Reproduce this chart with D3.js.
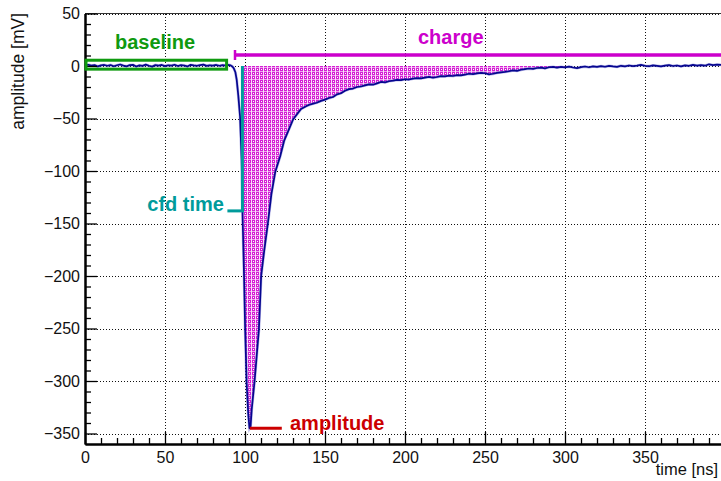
<!DOCTYPE html>
<meta charset="utf-8">
<style>
body { margin: 0; background: #fff; }
svg { display: block; font-family: "Liberation Sans", Arial, Helvetica, sans-serif; }
.grid line { stroke: #111; stroke-width: 1; stroke-dasharray: 1,2; }
.axis path, .axis line { stroke: #000; }
.axis text { fill: #111; font-size: 16px; font-family: "Liberation Sans", Arial, sans-serif; }
.note { font-weight: bold; font-size: 20px; }
</style>
<svg id="chart" width="721" height="481"></svg>
<script src="https://d3js.org/d3.v7.min.js"></script>
<script>

// waveform samples: time [ns] and amplitude [mV]
var time = [
  0, 2, 4, 6, 8, 10, 12, 14, 16, 18, 20, 22, 24, 26, 28, 30, 32, 34, 36, 38,
  40, 42, 44, 46, 48, 50, 52, 54, 56, 58, 60, 62, 64, 66, 68, 70, 72, 74, 76, 78,
  80, 82, 84, 86, 88, 90,
  91, 92, 93, 94, 94.8, 95.8, 96.9, 97.9, 98.5, 99.4, 100.1, 101, 102, 102.8, 103.5, 104.2,
  106, 108.7, 110.1, 112, 114.3, 116.5, 118.9, 122, 124.5, 127, 130, 132.5, 135, 138.5,
  141, 144.8, 147.5, 150,
  152.5, 155, 157.5, 160, 162.5, 165, 167.5, 170, 172.5, 175, 177.5, 180, 182.5, 185,
  187.5, 190, 192.5, 195, 197.5, 200, 202.5, 205, 207.5, 210, 212.5, 215, 217.5, 220,
  222.5, 225, 227.5, 230, 232.5, 235, 237.5, 240, 242.5, 245, 247.5, 250, 252.5, 255,
  257.5, 260, 262.5, 265, 267.5, 270, 272.5, 275, 277.5, 280, 282.5, 285, 287.5, 290,
  292.5, 295, 297.5, 300, 302.5, 305, 307.5, 310, 312.5, 315, 317.5, 320, 322.5, 325,
  327.5, 330, 332.5, 335, 337.5, 340, 342.5, 345, 347.5, 350, 352.5, 355, 357.5, 360,
  362.5, 365, 367.5, 370, 372.5, 375, 377.5, 380, 382.5, 385, 387.5, 390, 392.5, 395, 397.5
];
var amplitude = [
  0.5, 1.2, 0.3, 0.8, -0.4, 0.6, 1.0, 0.2, 0.9, -0.2, 0.7, 1.4, 0.4, -0.3, 0.8, 1.1, -0.5, 0.6, 0.1, 1.3,
  0.2, -0.6, 0.9, 0.4, 1.0, -0.1, 0.7, 0.3, 1.2, 0.0, 0.8, 0.5, -0.4, 1.1, 0.6, 0.2, 0.9, 1.3, 0.1, 0.7,
  0.4, 1.0, 0.2, 0.8, 0.5, 1.0,
  0.6, -0.4, -2.2, -6, -13, -28, -48, -89, -143, -200, -251, -301, -331, -345, -343, -327,
  -300, -251, -200, -176, -150, -122, -101, -86, -71, -62, -51, -46, -41, -38,
  -36.5, -35, -33.2, -32,
  -30.5, -29.5, -27, -26, -23.5, -22, -21.5, -20, -19.5, -18.5, -17.5, -17.8, -16.5, -15.2,
  -15.6, -14.5, -14, -13.2, -13.5, -12.6, -12.9, -12, -11.5, -11.8, -11, -10.4, -11.2, -10.5,
  -9.6, -9.9, -9.2, -9.5, -8.7, -8.9, -8.2, -7.4, -7.8, -7.0, -6.6, -6.9, -8.0, -7.4,
  -6.5, -6.0, -5.6, -5.0, -4.2, -4.6, -3.6, -3.0, -2.4, -2.8, -1.9, -1.5, -2.2, -1.2,
  -0.8, -1.6, -0.9, -1.3, -0.6, -1.4, -2.0, -1.1, -0.5, -1.2, -0.3, -0.9, -0.2, -0.7,
  0.1, -0.4, -0.8, 0.2, -0.3, 0.5, -0.1, 0.3, 1.0, 0.2, -0.2, 0.6, 0.1, -0.4,
  0.4, 0.9, 0.0, 0.5, -0.3, 0.6, 0.2, 1.1, 0.4, 0.8, 0.3, 1.6, 0.9, 1.3, 1.0
];

var xTicks = [0, 50, 100, 150, 200, 250, 300, 350];
var xMinor = [10, 20, 30, 40, 60, 70, 80, 90, 110, 120, 130, 140, 160, 170, 180, 190,
  210, 220, 230, 240, 260, 270, 280, 290, 310, 320, 330, 340, 360, 370, 380, 390];
var yTicks = [50, 0, -50, -100, -150, -200, -250, -300, -350];
var yMinor = [40, 30, 20, 10, -10, -20, -30, -40, -60, -70, -80, -90, -110, -120, -130, -140,
  -160, -170, -180, -190, -210, -220, -230, -240, -260, -270, -280, -290, -310, -320, -330, -340];

// analysis results shown as annotations
var baselineWindow = [0, 88.5];
var baselineBand = [-3, 5.5];
var chargeStart = 93.75;
var chargeLevel = 10.5;
var chargeFillEnd = 300;
var cfdTime = 98.4;
var cfdLevel = -138;
var cfdTickFrom = 89;
var peakTime = 103;
var peakValue = -345;
var peakTickTo = 123;

var svg = d3.select("#chart");

var x = d3.scaleLinear().domain([0, 397.5]).range([85, 721]);
var y = d3.scaleLinear().domain([-360, 50]).range([444, 13.5]);

var samples = time.map(function(t, i) { return [t, amplitude[i]]; });

// hatched fill pattern for the charge integral
var defs = svg.append("defs");
var pat = defs.append("pattern")
    .attr("id", "hatch")
    .attr("patternUnits", "userSpaceOnUse")
    .attr("width", 4).attr("height", 4)
    .attr("shape-rendering", "crispEdges");
pat.append("rect").attr("width", 4).attr("height", 4).attr("fill", "#d41ed4");
pat.append("rect").attr("x", 3).attr("width", 1).attr("height", 4).attr("fill", "#fff").attr("opacity", 0.85);
pat.append("rect").attr("y", 3).attr("width", 3).attr("height", 1).attr("fill", "#fff").attr("opacity", 0.6);
pat.append("rect").attr("x", 1).attr("y", 1).attr("width", 1).attr("height", 1).attr("fill", "#fff");

// grid
var grid = svg.append("g").attr("class", "grid");
grid.selectAll(".gx")
  .data(xTicks.filter(function(d) { return d > 0; }))
  .enter().append("line")
    .attr("x1", function(d) { return x(d) + 0.5; })
    .attr("x2", function(d) { return x(d) + 0.5; })
    .attr("y1", y(-360)).attr("y2", y(50));
grid.selectAll(".gy")
  .data(yTicks)
  .enter().append("line")
    .attr("x1", x(0)).attr("x2", x(397.5))
    .attr("y1", function(d) { return Math.round(y(d)) + 0.5; })
    .attr("y2", function(d) { return Math.round(y(d)) + 0.5; });

// top frame
svg.append("line")
    .attr("x1", x(0)).attr("x2", x(397.5))
    .attr("y1", y(50)).attr("y2", y(50))
    .attr("stroke", "#333").attr("stroke-width", 1);

// charge fill
var fillData = samples.filter(function(d) { return d[0] >= cfdTime && d[0] <= chargeFillEnd; });
svg.append("path")
    .datum(fillData)
    .attr("fill", "url(#hatch)")
    .attr("d", d3.area()
      .x(function(d) { return x(d[0]); })
      .y0(y(0))
      .y1(function(d) { return y(Math.min(d[1], 0)); }));

// waveform
var wave = d3.line().x(function(d) { return x(d[0]); }).y(function(d) { return y(d[1]); });
svg.append("path")
    .datum(samples)
    .attr("fill", "none")
    .attr("stroke", "#6a6ad0")
    .attr("stroke-width", 2.8)
    .attr("stroke-opacity", 0.45)
    .attr("d", wave);
svg.append("path")
    .datum(samples)
    .attr("fill", "none")
    .attr("stroke", "#06068f")
    .attr("stroke-width", 1.7)
    .attr("stroke-linejoin", "round")
    .attr("d", wave);

// axes
var xAxisG = svg.append("g").attr("class", "axis").attr("transform", "translate(0," + y(-360) + ")");
xAxisG.call(d3.axisBottom(x).tickValues(xMinor).tickSize(-6).tickSizeOuter(0).tickFormat(""));
xAxisG.append("g").call(d3.axisBottom(x).tickValues(xTicks).tickSize(-12).tickSizeOuter(0).tickPadding(8).tickFormat(d3.format("d")));
xAxisG.selectAll("path.domain").attr("stroke-width", 2);
xAxisG.selectAll(".tick line").attr("stroke-width", 1.3);

var yAxisG = svg.append("g").attr("class", "axis").attr("transform", "translate(" + x(0) + ",0)");
yAxisG.call(d3.axisLeft(y).tickValues(yMinor).tickSize(-6).tickSizeOuter(0).tickFormat(""));
yAxisG.append("g").call(d3.axisLeft(y).tickValues(yTicks).tickSize(-12).tickSizeOuter(0).tickPadding(5)
    .tickFormat(function(d) { return d < 0 ? "\u2212" + Math.abs(d) : d; }));
yAxisG.selectAll("path.domain").attr("stroke-width", 2);
yAxisG.selectAll(".tick line").attr("stroke-width", 1.3);
svg.selectAll(".axis text").attr("font-size", 16.5).attr("font-family", "Liberation Sans, Arial, sans-serif");

// axis titles
svg.append("text")
    .attr("x", 718).attr("y", 475)
    .attr("text-anchor", "end")
    .attr("font-size", 16.5).attr("fill", "#111")
    .text("time [ns]");
svg.append("text")
    .attr("transform", "translate(24,13) rotate(-90)")
    .attr("text-anchor", "end")
    .attr("font-size", 17.5).attr("fill", "#111")
    .text("amplitude [mV]");

// baseline box
var green = "#0f9a0f";
svg.append("rect")
    .attr("x", x(baselineWindow[0]) + 1)
    .attr("y", y(baselineBand[1]))
    .attr("width", x(baselineWindow[1]) - x(baselineWindow[0]) - 1)
    .attr("height", y(baselineBand[0]) - y(baselineBand[1]))
    .attr("fill", "none").attr("stroke", green).attr("stroke-width", 3);
svg.append("text").attr("class", "note")
    .attr("x", 115).attr("y", 49).attr("fill", green).text("baseline");

// charge marker
var magenta = "#cc00cc";
svg.append("line")
    .attr("x1", x(chargeStart)).attr("x2", x(397.5))
    .attr("y1", y(chargeLevel)).attr("y2", y(chargeLevel))
    .attr("stroke", magenta).attr("stroke-width", 3.5);
svg.append("line")
    .attr("x1", x(chargeStart)).attr("x2", x(chargeStart))
    .attr("y1", y(chargeLevel) - 5).attr("y2", y(chargeLevel) + 5)
    .attr("stroke", magenta).attr("stroke-width", 2.5);
svg.append("text").attr("class", "note")
    .attr("x", 418).attr("y", 44).attr("fill", magenta).text("charge");

// cfd time marker
var teal = "#009b9b";
svg.append("line")
    .attr("x1", x(cfdTime)).attr("x2", x(cfdTime))
    .attr("y1", y(0)).attr("y2", y(cfdLevel))
    .attr("stroke", teal).attr("stroke-width", 3);
svg.append("line")
    .attr("x1", x(cfdTickFrom)).attr("x2", x(cfdTime) + 1.5)
    .attr("y1", y(cfdLevel)).attr("y2", y(cfdLevel))
    .attr("stroke", teal).attr("stroke-width", 3);
svg.append("text").attr("class", "note")
    .attr("x", 224).attr("y", 211).attr("text-anchor", "end").attr("fill", teal).text("cfd time");

// amplitude marker
var red = "#cc0000";
svg.append("line")
    .attr("x1", x(peakTime)).attr("x2", x(peakTickTo))
    .attr("y1", y(peakValue)).attr("y2", y(peakValue))
    .attr("stroke", red).attr("stroke-width", 3);
svg.append("text").attr("class", "note")
    .attr("x", 290).attr("y", 430).attr("fill", red).text("amplitude");

</script>
